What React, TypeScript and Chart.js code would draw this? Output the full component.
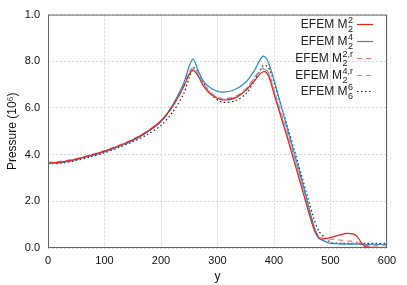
import React, { useEffect, useRef } from "react";
import { Chart, registerables } from "chart.js";

Chart.register(...registerables);

const xs = [0, 25, 50, 75, 100, 125, 150, 175, 200, 220, 240, 250, 257, 265, 275, 290, 308, 330, 350, 365, 375, 381, 387, 393, 400, 425, 450, 470, 480, 490, 500, 515, 530, 545, 560, 580, 600];

const m22 = [3.64, 3.69, 3.81, 3.97, 4.15, 4.38, 4.64, 4.98, 5.45, 6.05, 6.9, 7.45, 7.6, 7.4, 6.95, 6.55, 6.35, 6.42, 6.75, 7.15, 7.45, 7.55, 7.5, 7.2, 6.6, 4.6, 2.5, 0.85, 0.4, 0.4, 0.45, 0.55, 0.63, 0.55, 0.08, 0.03, 0.02];
const m24 = [3.62, 3.67, 3.79, 3.95, 4.12, 4.35, 4.6, 4.95, 5.42, 6.1, 7.05, 7.8, 8.1, 7.65, 7.15, 6.82, 6.68, 6.78, 7.1, 7.6, 8.05, 8.22, 8.1, 7.75, 7.2, 5.0, 2.85, 1.0, 0.42, 0.28, 0.2, 0.18, 0.17, 0.17, 0.16, 0.16, 0.16];
const m22r = [3.67, 3.72, 3.83, 3.99, 4.17, 4.4, 4.66, 5.0, 5.45, 6.05, 6.9, 7.5, 7.65, 7.45, 7.0, 6.6, 6.38, 6.45, 6.8, 7.25, 7.55, 7.65, 7.6, 7.3, 6.7, 4.7, 2.6, 0.9, 0.5, 0.4, 0.38, 0.35, 0.3, 0.28, 0.12, 0.1, 0.1];
const m24r = [3.63, 3.68, 3.8, 3.96, 4.13, 4.36, 4.62, 4.96, 5.42, 6.05, 6.95, 7.55, 7.72, 7.5, 7.05, 6.62, 6.4, 6.48, 6.82, 7.3, 7.6, 7.72, 7.65, 7.35, 6.8, 4.8, 2.7, 0.95, 0.45, 0.3, 0.22, 0.2, 0.2, 0.18, 0.15, 0.15, 0.15];
const m66 = [3.6, 3.64, 3.75, 3.9, 4.08, 4.3, 4.55, 4.85, 5.25, 5.8, 6.6, 7.3, 7.72, 7.6, 7.1, 6.55, 6.25, 6.3, 6.6, 7.15, 7.6, 7.82, 7.8, 7.6, 7.1, 5.1, 3.0, 1.3, 0.7, 0.45, 0.25, 0.2, 0.2, 0.2, 0.2, 0.2, 0.2];

const yTickLabels: Record<number, string> = { 0: "0.0", 2: "2.0", 4: "4.0", 6: "6.0", 8: "8.0", 10: "1.0" };

const legendItems = [
  { sup: "2", sub: "2", color: "#e8231e", dash: [] as number[] },
  { sup: "4", sub: "2", color: "#2b8bc9", dash: [] as number[] },
  { sup: "2,r", sub: "2", color: "#f07a78", dash: [5, 4] },
  { sup: "4,r", sub: "2", color: "#5aa9dc", dash: [5, 4] },
  { sup: "6", sub: "6", color: "#222222", dash: [1.5, 2.5] },
];

const series = [m22, m24, m22r, m24r, m66];

const FONT = "'Liberation Sans', Arial, Helvetica, sans-serif";

const framePlugin = {
  id: "frame",
  afterDraw(chart: any) {
    const { ctx, chartArea } = chart;
    ctx.save();
    ctx.strokeStyle = "#666";
    ctx.lineWidth = 1;
    ctx.strokeRect(chartArea.left + 0.5, chartArea.top + 0.5, chartArea.right - chartArea.left - 1, chartArea.bottom - chartArea.top - 1);
    const rowY = [24, 41, 58, 75, 91];
    const textRight = 353;
    legendItems.forEach((it, i) => {
      const y = rowY[i];
      ctx.font = `9px ${FONT}`;
      const sw = Math.max(ctx.measureText(it.sup).width, ctx.measureText(it.sub).width);
      const scriptX = textRight - sw;
      ctx.fillStyle = "#222";
      ctx.textBaseline = "alphabetic";
      ctx.textAlign = "left";
      ctx.fillText(it.sup, scriptX, y - 1);
      ctx.fillText(it.sub, scriptX, y + 8);
      ctx.font = `12px ${FONT}`;
      ctx.textAlign = "right";
      ctx.fillText("EFEM M", scriptX - 0.5, y + 4);
      ctx.strokeStyle = it.color;
      ctx.lineWidth = 1.2;
      ctx.setLineDash(it.dash);
      ctx.beginPath();
      ctx.moveTo(357, y + 0.5);
      ctx.lineTo(373, y + 0.5);
      ctx.stroke();
      ctx.setLineDash([]);
    });
    ctx.restore();
  },
};

export default function App() {
  const ref = useRef<HTMLCanvasElement | null>(null);
  useEffect(() => {
    if (!ref.current) return;
    const chart = new Chart(ref.current, {
      type: "line",
      data: {
        datasets: legendItems.map((it, i) => ({
          label: "EFEM M",
          data: xs.map((x, j) => ({ x, y: series[i][j] })),
          borderColor: it.color,
          borderDash: it.dash,
          borderWidth: 1.2,
          pointRadius: 0,
          fill: false,
          tension: 0.3,
        })),
      },
      options: {
        responsive: false,
        animation: false,
        layout: { padding: { top: 14, right: 20, left: 0, bottom: 0 } },
        plugins: { legend: { display: false }, tooltip: { enabled: false } },
        scales: {
          x: {
            type: "linear",
            min: 0,
            max: 600,
            ticks: { stepSize: 100, color: "#111", font: { family: FONT, size: 11 }, padding: 6, maxRotation: 0 },
            grid: { color: "#d8d8d8", drawTicks: false },
            border: { display: false, dash: [2, 2] } as any,
            title: { display: true, text: "y", color: "#111", font: { family: FONT, size: 12 }, padding: { top: 2, bottom: 1 } },
            afterFit: (s: any) => { s.height = 37; },
          },
          y: {
            min: 0,
            max: 10,
            ticks: {
              stepSize: 2,
              color: "#111",
              font: { family: FONT, size: 11 },
              padding: 8,
              callback: (v: any) => yTickLabels[v as number] ?? "",
            },
            grid: { color: "#d8d8d8", drawTicks: false },
            border: { display: false, dash: [2, 2] } as any,
            title: { display: true, text: "Pressure (10\u2076)", color: "#111", font: { family: FONT, size: 12 }, padding: { top: 5, bottom: 2 } },
            afterFit: (s: any) => { s.width = 48; },
          },
        },
      },
      plugins: [framePlugin],
    });
    return () => chart.destroy();
  }, []);
  return (
    <div style={{ position: "absolute", left: 0, top: 0, width: 407, height: 285, background: "#fff" }}>
      <canvas ref={ref} width={407} height={285} />
    </div>
  );
}
